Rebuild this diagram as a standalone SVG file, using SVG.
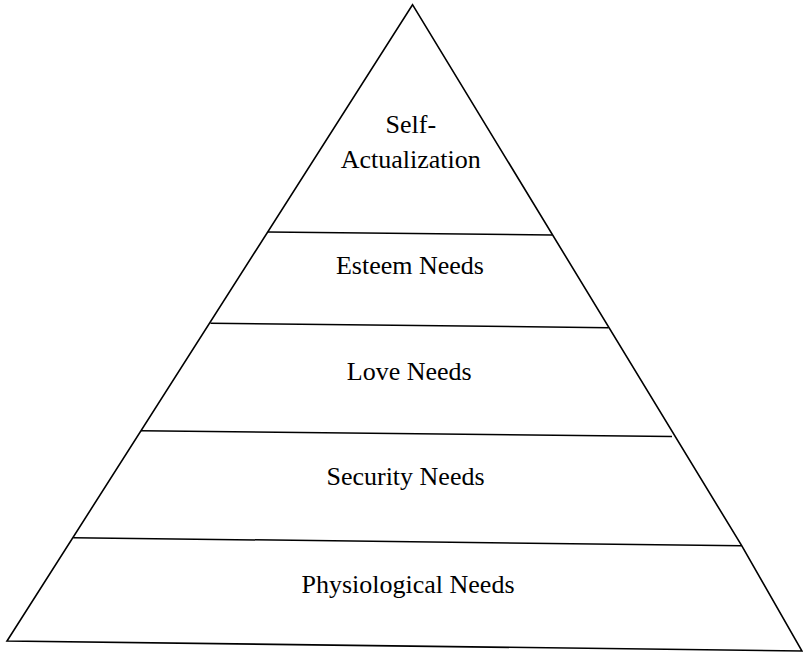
<svg xmlns="http://www.w3.org/2000/svg" width="803" height="652" viewBox="0 0 803 652">
  <style>
    .edge { fill: none; stroke: #000; stroke-width: 1.6; stroke-linejoin: miter; }
    .tier { fill: none; stroke: #000; stroke-width: 1.5; }
    .label { font-family: "Liberation Serif", "Times New Roman", serif; font-size: 26px; fill: #000; text-anchor: middle; }
  </style>
  <rect width="803" height="652" fill="#fff"/>

  <!-- pyramid outline -->
  <g id="outline">
    <path class="edge" d="M412.5,4.7 L741.7,545.7 L802,651 L7,641 Z"/>
  </g>

  <!-- dividing lines between tiers -->
  <g id="connectors">
    <line class="tier" x1="268" y1="232" x2="552" y2="235"/>
    <line class="tier" x1="210.5" y1="323.3" x2="608.5" y2="327.7"/>
    <line class="tier" x1="141" y1="430.7" x2="672" y2="436.5"/>
    <line class="tier" x1="73.3" y1="537.7" x2="741.7" y2="545.7"/>
  </g>

  <g id="self-actualization">
    <text class="label" x="410.8" y="133.3">Self-</text>
    <text class="label" x="410.8" y="168.3">Actualization</text>
  </g>
  <g id="esteem-needs">
    <text class="label" x="410" y="274">Esteem Needs</text>
  </g>
  <g id="love-needs">
    <text class="label" x="409.3" y="380">Love Needs</text>
  </g>
  <g id="security-needs">
    <text class="label" x="405.5" y="485">Security Needs</text>
  </g>
  <g id="physiological-needs">
    <text class="label" x="408" y="592.7">Physiological Needs</text>
  </g>
</svg>
